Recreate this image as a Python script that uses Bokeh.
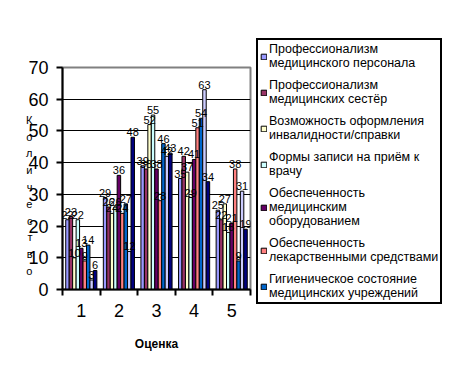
from bokeh.plotting import figure
from bokeh.models import ColumnDataSource, FixedTicker, Legend, LegendItem, Range1d
from bokeh.transform import dodge
from bokeh.core.properties import value
from bokeh.embed import file_html
from bokeh.resources import INLINE

categories = ["1", "2", "3", "4", "5"]
positions = [1, 2, 3, 4, 5]

series_names = [
    "Профессионализм\nмедицинского персонала",
    "Профессионализм\nмедицинских сестёр",
    "Возможность оформления\nинвалидности/справки",
    "Формы записи на приём к\nврачу",
    "Обеспеченность\nмедицинским\nоборудованием",
    "Обеспеченность\nлекарственными средствами",
    "Гигиеническое состояние\nмедицинских учреждений",
]

s1 = [22, 29, 39, 35, 25]
s2 = [23, 26, 38, 42, 22]
s3 = [10, 24, 52, 37, 27]
s4 = [22, 26, 55, 29, 18]
s5 = [13, 36, 38, 41, 21]
s6 = [9, 24, 28, 51, 38]
s7 = [14, 27, 46, 54, 9]
s8 = [3, 12, 42, 63, 31]
s9 = [6, 48, 43, 34, 19]
series = [s1, s2, s3, s4, s5, s6, s7, s8, s9]

colors = ["#9999FF", "#993366", "#FFFFCC", "#CCFFFF", "#660066",
          "#FF8080", "#0066CC", "#CCCCFF", "#000080"]

FONT = "Liberation Sans"

data = {"x": positions}
for i, s in enumerate(series):
    data[f"s{i}"] = s
    data[f"t{i}"] = [str(v) for v in s]
src = ColumnDataSource(data)

p = figure(frame_width=188, frame_height=222, output_backend="svg", toolbar_location=None,
           x_range=Range1d(0.5, 5.5), y_range=Range1d(0, 70),
           min_border_left=62, min_border_top=67, min_border_bottom=79,
           min_border_right=0)

bw = 0.092
bars = []
for i in range(9):
    off = (i - 4) * bw
    r = p.vbar(x=dodge("x", off), top=f"s{i}", width=bw, source=src,
               fill_color=colors[i], line_color="black", line_width=1)
    bars.append(r)
for i in range(9):
    off = (i - 4) * bw
    p.text(x=dodge("x", off), y=f"s{i}", text=f"t{i}", source=src,
           text_align="center", text_baseline="bottom", y_offset=-1,
           text_font=value(FONT), text_font_size="11px", text_color="black")

p.outline_line_color = "#808080"
p.outline_line_width = 2
p.outline_line_alpha = 1
p.xgrid.visible = False
p.ygrid.grid_line_color = "black"
p.ygrid.grid_line_width = 1
p.ygrid.ticker = FixedTicker(ticks=[10, 20, 30, 40, 50, 60])

p.yaxis.ticker = FixedTicker(ticks=[0, 10, 20, 30, 40, 50, 60, 70])
p.yaxis.axis_line_width = 2
p.yaxis.major_tick_line_width = 2
p.yaxis.major_tick_out = 6
p.yaxis.major_tick_in = 0
p.yaxis.minor_tick_out = 0
p.yaxis.minor_tick_in = 0
p.yaxis.major_label_text_font = FONT
p.yaxis.major_label_text_font_size = "18px"
p.yaxis.major_label_text_color = "black"
p.yaxis.major_label_standoff = 8
p.yaxis.axis_label = "\n\n" + "\n".join("Количество")
p.yaxis.axis_label_orientation = "horizontal"
p.yaxis.axis_label_text_font = FONT
p.yaxis.axis_label_text_font_size = "11px"
p.yaxis.axis_label_text_font_style = "normal"
p.yaxis.axis_label_text_line_height = 1.4
p.yaxis.axis_label_text_color = "black"
p.yaxis.axis_label_standoff = -7

p.xaxis.ticker = FixedTicker(ticks=positions, minor_ticks=[0.5, 1.5, 2.5, 3.5, 4.5, 5.5])
p.xaxis.major_label_overrides = {pos: c for pos, c in zip(positions, categories)}
p.xaxis.axis_line_width = 2
p.xaxis.major_tick_out = 0
p.xaxis.major_tick_in = 0
p.xaxis.minor_tick_out = 6
p.xaxis.minor_tick_in = 0
p.xaxis.minor_tick_line_width = 2
p.xaxis.minor_tick_line_color = "black"
p.xaxis.major_label_text_font = FONT
p.xaxis.major_label_text_font_size = "18px"
p.xaxis.major_label_text_color = "black"
p.xaxis.major_label_standoff = 8
p.xaxis.axis_label = "Оценка"
p.xaxis.axis_label_text_font = FONT
p.xaxis.axis_label_text_font_size = "12px"
p.xaxis.axis_label_text_font_style = "bold"
p.xaxis.axis_label_text_color = "black"
p.xaxis.axis_label_standoff = 17

items = [LegendItem(label=series_names[i], renderers=[bars[i]]) for i in range(7)]
legend = Legend(items=items, location=(6, -15),
                border_line_color="black", border_line_width=2, border_line_alpha=1,
                background_fill_color="white", background_fill_alpha=1,
                label_text_font=FONT, label_text_font_size="12.5px",
                label_text_color="black", label_text_line_height=1.25,
                glyph_width=7, glyph_height=7, label_standoff=2,
                label_height=10, spacing=8, padding=2, margin=0)
p.add_layout(legend, "right")

open("out.html", "w").write(file_html(p, INLINE))
